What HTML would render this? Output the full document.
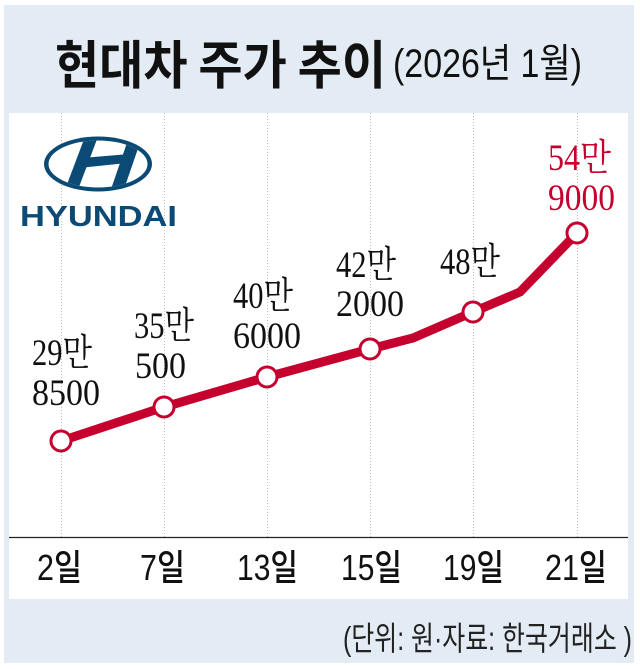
<!DOCTYPE html>
<html>
<head>
<meta charset="utf-8">
<style>
  html,body{margin:0;padding:0;background:#fff;}
  svg{display:block;}
</style>
</head>
<body>
<svg width="640" height="669" viewBox="0 0 640 669" xmlns="http://www.w3.org/2000/svg">
  <!-- outer blue panel -->
  <rect x="4" y="5" width="630" height="658" fill="#e3ecf4"/>
  <!-- white chart panel -->
  <rect x="9" y="113" width="619" height="486" fill="#ffffff"/>

  <!-- title -->
  <text x="55" y="84" font-family="'Noto Sans CJK KR','Liberation Sans',sans-serif" font-weight="bold" font-size="52" fill="#111" textLength="331" lengthAdjust="spacingAndGlyphs">현대차 주가 추이</text>
  <text x="393" y="77" font-family="'Liberation Sans','Noto Sans CJK KR',sans-serif" font-size="40" fill="#111" textLength="189" lengthAdjust="spacingAndGlyphs">(2026년 1월)</text>

  <!-- gridlines -->
  <g stroke="#bdbdbd" stroke-width="1" stroke-dasharray="1 2">
    <line x1="61.5" y1="113" x2="61.5" y2="537"/>
    <line x1="164.5" y1="113" x2="164.5" y2="537"/>
    <line x1="267.5" y1="113" x2="267.5" y2="537"/>
    <line x1="370.5" y1="113" x2="370.5" y2="537"/>
    <line x1="473.5" y1="113" x2="473.5" y2="537"/>
    <line x1="577.5" y1="113" x2="577.5" y2="537"/>
  </g>

  <!-- axis line -->
  <line x1="9" y1="537.5" x2="628" y2="537.5" stroke="#222" stroke-width="1.3"/>

  <!-- Hyundai logo -->
  <defs>
    <clipPath id="inner">
      <ellipse cx="98" cy="164" rx="49.5" ry="23.5"/>
    </clipPath>
  </defs>
  <ellipse cx="98" cy="164" rx="54" ry="27.5" fill="#0b4a75"/>
  <ellipse cx="98" cy="164" rx="49.5" ry="23.5" fill="#ffffff"/>
  <g clip-path="url(#inner)" fill="#0b4a75">
    <polygon points="86,134 99,134 76,195 63,195"/>
    <polygon points="130,134 143,134 122,195 109,195"/>
    <polygon points="82,158 130,154 127,163 79,168"/>
  </g>
  <text x="20" y="226" font-family="'Liberation Sans',sans-serif" font-weight="bold" font-size="29" fill="#0b4a75" textLength="157" lengthAdjust="spacingAndGlyphs">HYUNDAI</text>

  <!-- series line -->
  <polyline points="61,441 164,407 267,377 370,349 413,338 473,312 520,292 577,233"
            fill="none" stroke="#c5002e" stroke-width="9" stroke-linejoin="miter"/>
  <g fill="#ffffff" stroke="#c5002e" stroke-width="3">
    <circle cx="61" cy="441" r="10"/>
    <circle cx="164" cy="407" r="10"/>
    <circle cx="267" cy="377" r="10"/>
    <circle cx="370" cy="349" r="10"/>
    <circle cx="473" cy="312" r="10"/>
    <circle cx="577" cy="233" r="10"/>
  </g>

  <!-- data labels -->
  <g font-family="'Liberation Serif','Noto Serif CJK KR','Noto Serif CJK SC',serif" font-size="37" fill="#111">
    <text x="32" y="365" textLength="60" lengthAdjust="spacingAndGlyphs">29만</text>
    <text x="32" y="405" textLength="68" lengthAdjust="spacingAndGlyphs">8500</text>
    <text x="134" y="338" textLength="60" lengthAdjust="spacingAndGlyphs">35만</text>
    <text x="135" y="378" textLength="51" lengthAdjust="spacingAndGlyphs">500</text>
    <text x="233" y="308" textLength="60" lengthAdjust="spacingAndGlyphs">40만</text>
    <text x="233" y="348" textLength="68" lengthAdjust="spacingAndGlyphs">6000</text>
    <text x="336" y="277" textLength="60" lengthAdjust="spacingAndGlyphs">42만</text>
    <text x="336" y="316" textLength="68" lengthAdjust="spacingAndGlyphs">2000</text>
    <text x="440" y="274" textLength="60" lengthAdjust="spacingAndGlyphs">48만</text>
    <text x="548" y="170" textLength="63" fill="#c5002e" lengthAdjust="spacingAndGlyphs">54만</text>
    <text x="548" y="210" textLength="67" fill="#c5002e" lengthAdjust="spacingAndGlyphs">9000</text>
  </g>

  <!-- x-axis labels -->
  <g font-family="'Liberation Sans','Noto Sans CJK KR',sans-serif" font-size="36" font-weight="500" fill="#111">
    <text x="37" y="580" textLength="45" lengthAdjust="spacingAndGlyphs">2일</text>
    <text x="140" y="580" textLength="45" lengthAdjust="spacingAndGlyphs">7일</text>
    <text x="237" y="580" textLength="61" lengthAdjust="spacingAndGlyphs">13일</text>
    <text x="341" y="580" textLength="61" lengthAdjust="spacingAndGlyphs">15일</text>
    <text x="443" y="580" textLength="61" lengthAdjust="spacingAndGlyphs">19일</text>
    <text x="545" y="580" textLength="62" lengthAdjust="spacingAndGlyphs">21일</text>
  </g>

  <!-- source -->
  <text x="343" y="650" font-family="'Liberation Sans','Noto Sans CJK KR',sans-serif" font-size="33" fill="#222" textLength="289" lengthAdjust="spacingAndGlyphs">(단위: 원·자료: 한국거래소 )</text>
</svg>
</body>
</html>
